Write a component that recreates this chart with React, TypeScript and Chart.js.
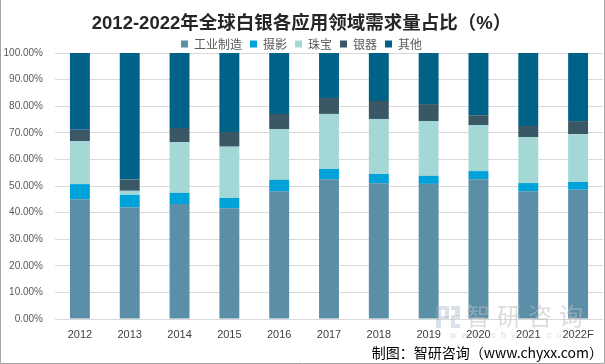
import { useEffect, useRef } from 'react';
import { Chart, registerables } from 'chart.js';

Chart.register(...registerables);

const categories = ['2012', '2013', '2014', '2015', '2016', '2017', '2018', '2019', '2020', '2021', '2022F'];
const seriesNames = ['工业制造', '摄影', '珠宝', '银器', '其他'];
const industrial = [45.0, 42.0, 43.2, 41.6, 48.0, 52.5, 51.0, 50.8, 52.5, 48.0, 48.6];
const photography = [5.7, 4.7, 4.2, 3.9, 4.3, 3.9, 3.5, 3.0, 3.1, 3.1, 2.9];
const jewelry = [16.2, 1.5, 19.1, 19.3, 19.1, 20.7, 20.7, 20.6, 17.3, 17.3, 18.0];
const silverware = [4.2, 4.3, 5.3, 5.5, 5.7, 6.0, 6.8, 6.4, 3.7, 4.2, 4.9];
const others = [28.9, 47.5, 28.2, 29.7, 22.9, 16.9, 18.0, 19.2, 23.4, 27.4, 25.6];
const seriesColors = ['#5B8FA8', '#00A2DA', '#A4D8D6', '#3A5766', '#006287'];
const titleText = '2012-2022年全球白银各应用领域需求量占比（%）';
const sourceText = '制图：智研咨询（www.chyxx.com）';
const yMax = 100;
const yStep = 10;

const cjk = '"Noto Sans CJK SC", sans-serif';
const latin = '"Liberation Sans", "Noto Sans CJK SC", sans-serif';

const decorPlugin = {
  id: 'decor',
  afterDraw(chart: any) {
    const ctx = chart.ctx as CanvasRenderingContext2D;
    ctx.save();
    // watermark
    ctx.fillStyle = 'rgba(190,190,190,0.55)';
    ctx.font = '24px ' + cjk;
    ctx.textBaseline = 'middle';
    ctx.textAlign = 'left';
    (ctx as any).letterSpacing = '7px';
    ctx.fillText('智研咨询', 466, 316);
    ctx.font = '9px ' + latin;
    (ctx as any).letterSpacing = '5px';
    ctx.fillText('www.chyxx.com', 450, 336);
    (ctx as any).letterSpacing = '0px';
    ctx.fillStyle = 'rgba(150,170,190,0.35)';
    ctx.fillRect(436, 306, 5, 22);
    ctx.fillRect(441, 306, 8, 4);
    ctx.fillRect(445, 310, 4, 8);
    ctx.fillRect(441, 316, 8, 3);
    ctx.fillRect(451, 306, 9, 4);
    ctx.fillRect(455, 310, 5, 6);
    ctx.fillRect(451, 315, 9, 4);
    ctx.fillRect(451, 319, 4, 5);
    ctx.fillRect(451, 324, 9, 4);
    // frame
    ctx.strokeStyle = '#a6a6a6';
    ctx.lineWidth = 1;
    ctx.beginPath();
    ctx.moveTo(0.5, 0);
    ctx.lineTo(0.5, 363.5);
    ctx.lineTo(604.5, 363.5);
    ctx.lineTo(604.5, 0);
    ctx.stroke();
    ctx.restore();
  },
};

export default function App() {
  const ref = useRef<HTMLCanvasElement | null>(null);
  useEffect(() => {
    document.body.style.margin = '0';
    const canvas = ref.current;
    if (!canvas) return;
    const series = [industrial, photography, jewelry, silverware, others];
    const chart = new Chart(canvas, {
      type: 'bar',
      data: {
        labels: categories,
        datasets: series.map((d, i) => ({
          label: seriesNames[i],
          data: d,
          backgroundColor: seriesColors[i],
          borderWidth: 0,
          barPercentage: 0.4,
          categoryPercentage: 1.0,
        })),
      },
      options: {
        animation: false,
        responsive: false,
        devicePixelRatio: 1,
        layout: { padding: { top: 0, left: 0, right: 2, bottom: 0 } },
        plugins: {
          tooltip: { enabled: false },
          title: {
            display: true,
            text: titleText,
            color: '#262626',
            font: { family: latin, size: 18.5, weight: 'bold', lineHeight: '12px' },
            padding: { top: 18, bottom: 0 },
          },
          legend: {
            display: true,
            position: 'top',
            maxHeight: 23,
            labels: {
              boxWidth: 7,
              boxHeight: 7,
              padding: 8,
              color: '#595959',
              font: { family: cjk, size: 12 },
            },
          },
          subtitle: {
            display: true,
            position: 'bottom',
            align: 'end',
            text: sourceText,
            color: '#000000',
            font: { family: cjk, size: 14, lineHeight: 1.2 },
            padding: { top: 0, bottom: 3 },
          },
        },
        scales: {
          x: {
            stacked: true,
            grid: { display: false, drawTicks: false },
            border: { display: false },
            ticks: {
              color: '#404040',
              font: { family: latin, size: 11 },
              padding: 9,
              maxRotation: 0,
            },
            afterFit(scale: any) {
              scale.height = 25.2;
            },
          },
          y: {
            stacked: true,
            min: 0,
            max: yMax,
            grid: { color: '#d9d9d9', drawTicks: false, lineWidth: 1 },
            border: { display: false },
            ticks: {
              stepSize: yStep,
              color: '#595959',
              font: { family: latin, size: 10 },
              padding: 12,
              callback: (v: any) => Number(v).toFixed(2) + '%',
            },
            afterFit(scale: any) {
              scale.width = 55;
            },
          },
        },
      },
      plugins: [decorPlugin],
    } as any);
    return () => chart.destroy();
  }, []);
  return (
    <div style={{ width: 605, height: 364 }}>
      <canvas ref={ref} width={605} height={364} style={{ display: 'block' }} />
    </div>
  );
}
